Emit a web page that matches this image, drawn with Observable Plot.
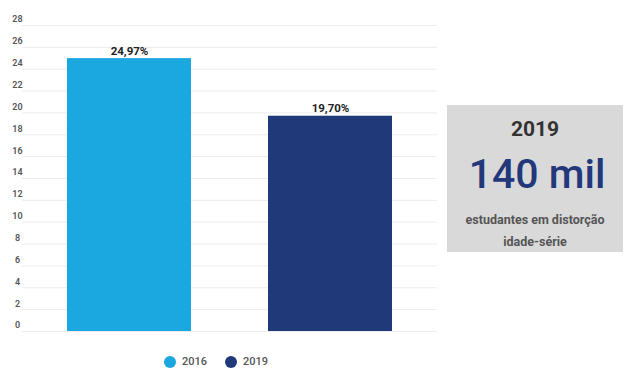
<!DOCTYPE html>
<html>
<head>
<meta charset="utf-8">
<script src="https://cdn.jsdelivr.net/npm/d3@7"></script>
<script src="https://cdn.jsdelivr.net/npm/@observablehq/plot@0.6"></script>
<style>
  html, body { margin: 0; padding: 0; background: #fff; }
  body { width: 626px; height: 369px; position: relative; overflow: hidden; font-family: Roboto, "Noto Sans", sans-serif; }
  #chart { position: absolute; left: 0; top: 0; }
  #box { position: absolute; left: 447px; top: 105px; width: 176px; height: 147px; background: #d9d9d9; text-align: center; }
  #box .yr { position: absolute; left: 0; right: 0; top: 12px; font-size: 21px; font-weight: 700; color: #333; }
  #box .big { position: absolute; left: 4px; right: 0; top: 45px; font-size: 41px; font-weight: 500; color: #22387a; }
  #box .sub { position: absolute; left: 0; right: 0; top: 104px; font-size: 12.5px; font-weight: 700; color: #555; line-height: 22px; }
  #legend { position: absolute; left: 164px; top: 355px; display: flex; align-items: center; font-size: 11px; font-weight: 500; color: #555; }
  #legend .sw { width: 12px; height: 12px; border-radius: 50%; display: inline-block; margin-right: 6px; }
  #legend .it { display: flex; align-items: center; margin-right: 18px; }
</style>
</head>
<body>
<div id="chart"></div>
<div id="box">
  <div class="yr" id="boxYear"></div>
  <div class="big" id="boxBig"></div>
  <div class="sub" id="boxSub"></div>
</div>
<div id="legend"></div>
<script>
const categories = ["2016", "2019"];
const values = [24.97, 19.70];
const valueLabels = ["24,97%", "19,70%"];
const colors = ["#1ba7e0", "#203a79"];
const yTicks = [0, 2, 4, 6, 8, 10, 12, 14, 16, 18, 20, 22, 24, 26, 28];
const boxYear = "2019";
const boxBig = "140 mil";
const boxSubLines = ["estudantes em distorção", "idade-série"];

const data = categories.map((c, i) => ({cat: c, value: values[i], label: valueLabels[i]}));

const chart = Plot.plot({
  width: 626,
  height: 345,
  marginLeft: 22,
  marginRight: 189,
  marginTop: 25,
  marginBottom: 14,
  style: {fontFamily: "Roboto, sans-serif", background: "#fff"},
  x: {domain: categories, paddingInner: 0.381, paddingOuter: 0.218, axis: null},
  y: {domain: [0, 28], ticks: yTicks, label: null},
  color: {domain: categories, range: colors},
  marks: [
    Plot.gridY(yTicks, {stroke: "#ececec", strokeOpacity: 1}),
    Plot.axisY(yTicks, {label: null, tickSize: 0, tickPadding: 5, textAnchor: "middle", dy: -6, fontSize: 9, fontWeight: 600, fill: "#555", tickFormat: d => String(d)}),
    Plot.barY(data, {x: "cat", y: "value", fill: "cat"}),
    Plot.text(data, {x: "cat", y: "value", text: "label", lineAnchor: "bottom", dy: -4, fontSize: 11.5, fontWeight: 700, fill: "#222"})
  ]
});
document.getElementById("chart").appendChild(chart);

document.getElementById("boxYear").textContent = boxYear;
document.getElementById("boxBig").textContent = boxBig;
document.getElementById("boxSub").innerHTML = boxSubLines.map(s => `<div>${s}</div>`).join("");

const legend = document.getElementById("legend");
categories.forEach((c, i) => {
  const it = document.createElement("div");
  it.className = "it";
  it.innerHTML = `<span class="sw" style="background:${colors[i]}"></span><span>${c}</span>`;
  legend.appendChild(it);
});
</script>
</body>
</html>
